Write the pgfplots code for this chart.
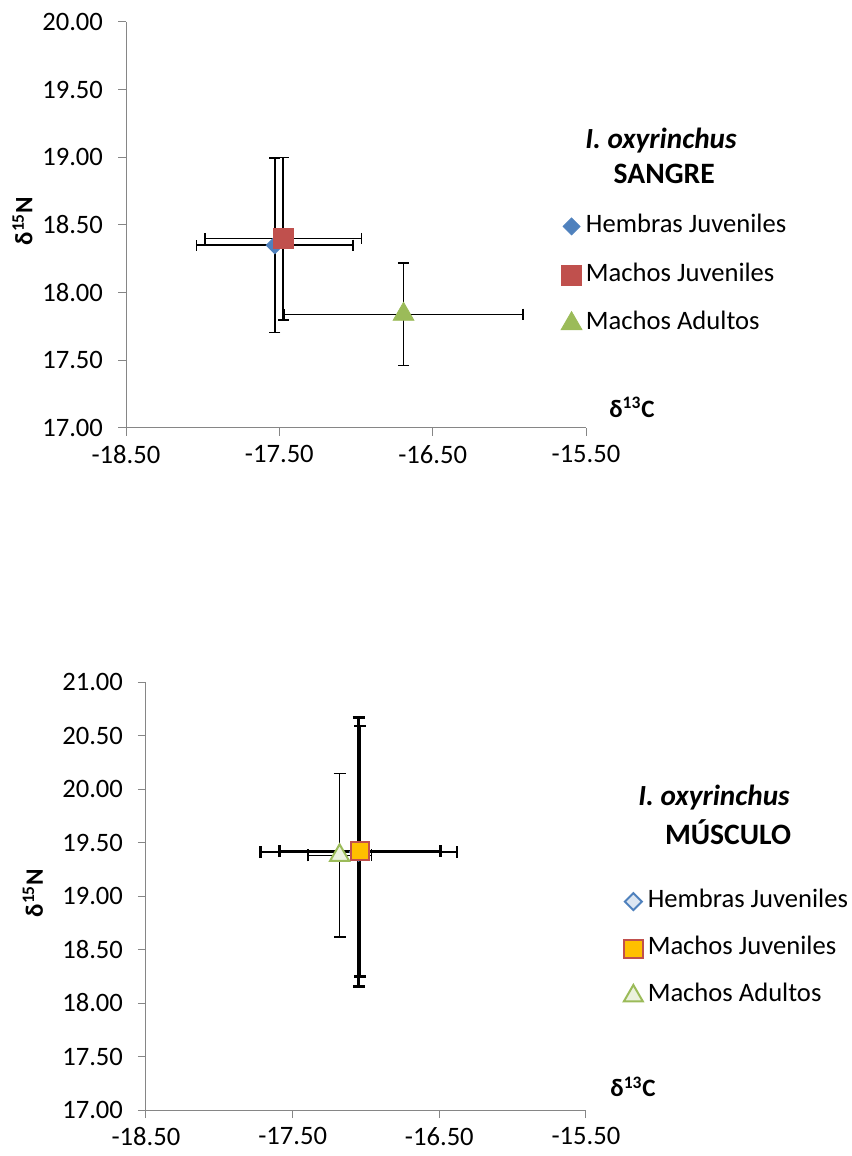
\documentclass[border=0pt]{standalone}
\usepackage{fontspec}
\setmainfont{Carlito}
\usepackage{pgfplots}
\pgfplotsset{compat=1.18}

\definecolor{hjblue}{HTML}{4F81BD}
\definecolor{mjred}{HTML}{C0504D}
\definecolor{magreen}{HTML}{9BBB59}
\definecolor{axisgray}{HTML}{868686}
\definecolor{mjorange}{HTML}{FFC000}
\definecolor{hjlight}{HTML}{DCE6F2}
\definecolor{malight}{HTML}{EBF1DE}

\newcommand{\tickfont}{\fontsize{13.3}{15}\selectfont}

\pgfplotsset{
  isoaxis/.style={
    scale only axis,
    clip=false,
    axis x line=bottom, axis y line=left,
    axis line style={-, draw=axisgray, line width=0.5pt},
    tick style={draw=axisgray, line width=0.5pt},
    tick align=outside,
    major tick length=4pt,
    xmin=-18.5, xmax=-15.5,
    xtick={-18.5,-17.5,-16.5,-15.5},
    /pgf/number format/fixed,
    /pgf/number format/fixed zerofill,
    /pgf/number format/precision=2,
    /pgf/number format/assume math mode=true,
    ticklabel style={font=\tickfont},
    yticklabel style={xshift=-4pt},
    xticklabel style={yshift=-1pt},
    xlabel style={font=\bfseries\fontsize{12.5}{14}\selectfont, anchor=center},
    ylabel style={font=\bfseries\fontsize{12.5}{14}\selectfont, anchor=center},
    legend style={draw=none, fill=none, inner sep=0pt, outer sep=0pt,
      font=\tickfont, anchor=north west, row sep=12.3pt, column sep=0pt,
      nodes={inner sep=0pt, text height=9pt, text depth=3pt}},
    legend cell align=left,
    legend image code/.code={\draw[#1] plot coordinates {(5pt,0pt)}; \path (0pt,0pt) (12pt,0pt);},
  },
  % error bars in both directions, with caps across each bar end
  ebars/.style 2 args={
    error bars/.cd,
      x dir=both, x explicit, y dir=both, y explicit,
      error mark=|,
      error bar style={black, line width=#1},
      error mark options={black, line width=#1, mark size=#2},
  },
}

\begin{document}
\begin{tikzpicture}
\useasboundingbox (0,0) rectangle (425.5pt,578pt);

% --- Sangre ---
\begin{axis}[isoaxis,
  at={(63pt,364pt)}, anchor=south west,
  width=230pt, height=203pt,
  ymin=17, ymax=20, ytick={17,17.5,...,20},
  xlabel={δ\textsuperscript{13}C},
  xlabel style={at={(axis description cs:1.1,0.05)}},
  ylabel={δ\textsuperscript{15}N},
  ylabel style={at={(axis description cs:-0.225,0.51)}},
  legend style={at={(axis description cs:0.946,0.526)}},
]
\addplot[only marks, mark=square*, mark size=3pt,
  mark options={rotate=45, fill=hjblue, draw=hjblue}, ebars={0.8pt}{2.8pt}]
  table[x=x, y=y, x error=ex, y error=ey] {
x y ex ey
-17.53 18.35 0.51 0.645
};
\addlegendentry{Hembras Juveniles}
\addplot[only marks, mark=square*, mark size=5pt,
  mark options={fill=mjred, draw=mjred}, ebars={0.8pt}{2.8pt}]
  table[x=x, y=y, x error=ex, y error=ey] {
x y ex ey
-17.475 18.40 0.51 0.60
};
\addlegendentry{Machos Juveniles}
\addplot[only marks, mark=triangle*, mark size=6pt,
  mark options={fill=magreen, draw=magreen}, ebars={0.8pt}{2.8pt}]
  table[x=x, y=y, x error=ex, y error=ey] {
x y ex ey
-16.69 17.84 0.78 0.378
};
\addlegendentry{Machos Adultos}
\node[font=\bfseries\itshape\fontsize{14.6}{16}\selectfont] at (axis description cs:1.163,0.707) {I. oxyrinchus};
\node[font=\bfseries\fontsize{14.8}{16}\selectfont] at (axis description cs:1.17,0.626) {SANGRE};
\end{axis}

% --- Músculo ---
\begin{axis}[isoaxis,
  at={(73pt,23pt)}, anchor=south west,
  width=220pt, height=214pt,
  ymin=17, ymax=21, ytick={17,17.5,...,21},
  xlabel={δ\textsuperscript{13}C},
  xlabel style={at={(axis description cs:1.107,0.054)}},
  ylabel={δ\textsuperscript{15}N},
  ylabel style={at={(axis description cs:-0.257,0.507)}},
  legend style={at={(axis description cs:1.084,0.515)}, row sep=11.6pt},
]
\addplot[only marks, mark=square*, mark size=3pt,
  mark options={rotate=45, fill=hjlight, draw=hjblue, line width=1pt}, ebars={1.3pt}{3pt}]
  table[x=x, y=y, x error=ex, y error=ey] {
x y ex ey
-17.05 19.41 0.67 1.257
};
\addlegendentry{Hembras Juveniles}
\addplot[only marks, mark=square*, mark size=4.6pt,
  mark options={fill=mjorange, draw=mjred, line width=1pt}, ebars={1.3pt}{3pt}]
  table[x=x, y=y, x error=ex, y error=ey] {
x y ex ey
-17.04 19.42 0.55 1.17
};
\addlegendentry{Machos Juveniles}
\addplot[only marks, mark=triangle*, mark size=5.5pt,
  mark options={fill=malight, draw=magreen, line width=1pt}, ebars={0.7pt}{3pt}]
  table[x=x, y=y, x error=ex, y error=ey] {
x y ex ey
-17.18 19.38 0.216 0.765
};
\addlegendentry{Machos Adultos}
\node[font=\bfseries\itshape\fontsize{14.6}{16}\selectfont] at (axis description cs:1.291,0.731) {I. oxyrinchus};
\node[font=\bfseries\fontsize{14.8}{16}\selectfont] at (axis description cs:1.323,0.65) {MÚSCULO};
\end{axis}
\end{tikzpicture}
\end{document}
